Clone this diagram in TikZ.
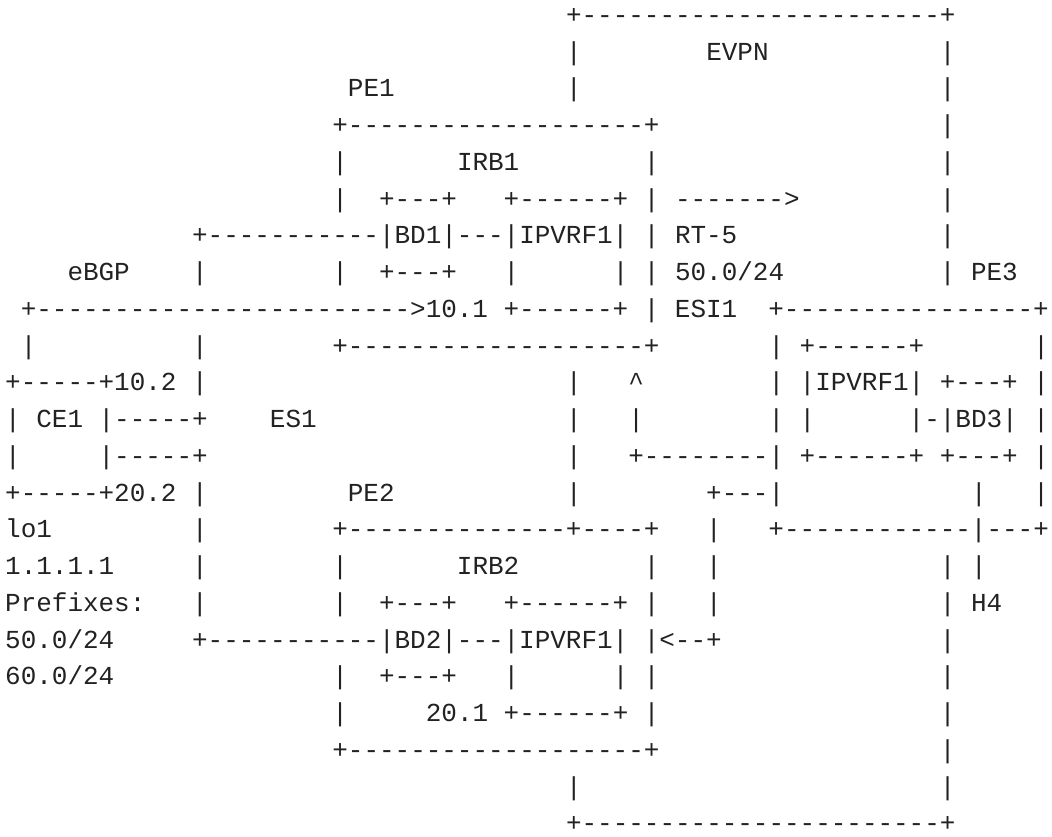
\documentclass[tikz,border=0pt]{standalone}
\usepackage{fontspec}
\setmonofont{Liberation Mono}
\definecolor{ink}{HTML}{222222}

\ExplSyntaxOn
\NewDocumentCommand\dashes{m}{\prg_replicate:nn{#1}{-}}
\ExplSyntaxOff
\newcommand\gap[1]{\hphantom{\dashes{#1}}}

\begin{document}
\begin{tikzpicture}[x=11.685pt, y=-27.5625pt,
    ascii/.style={anchor=base west, inner sep=0pt, outer sep=0pt, text=ink,
        font=\ttfamily\fontsize{19.47pt}{27.56pt}\selectfont}]
            \fill [white] (-0.334,-0.6395) rectangle (67.19,22.136);
            \useasboundingbox (-0.334,-0.6395) rectangle (67.19,22.136);

            %EVPN
            \node [ascii] (evpntop)at(36,0){+\dashes{23}+};
            \node [ascii] (evpn)at(36,1){|\gap{8}EVPN\gap{11}|};
            %PE1
            \node [ascii] (pe1)at(22,2){PE1\gap{11}|\gap{23}|};
            \node [ascii] (pe1top)at(21,3){+\dashes{19}+\gap{18}|};
            \node [ascii] (irb1)at(21,4){|\gap{7}IRB1\gap{8}|\gap{18}|};
            \node [ascii] (bd1top)at(21,5){|\gap{2}+---+\gap{3}+\dashes{6}+ | \dashes{7}>\gap{9}|};
            \node [ascii] (bd1)at(12,6){+\dashes{11}|BD1|---|IPVRF1| | RT-5\gap{13}|};
            \node [ascii] (ebgp)at(4,7){eBGP\gap{4}|\gap{8}|\gap{2}+---+\gap{3}|\gap{6}| | 50.0/24\gap{10}| PE3};
            \node [ascii] (route1)at(1,8){+\dashes{24}>10.1 +\dashes{6}+ | ESI1\gap{2}+\dashes{16}+};
            \node [ascii] (pe1bot)at(1,9){|\gap{10}|\gap{8}+\dashes{19}+\gap{7}| +\dashes{6}+\gap{7}|};

            %CE1
            \node [ascii] (ce1top)at(0,10){+\dashes{5}+10.2 |\gap{23}|\gap{3}\textasciicircum\gap{8}| |IPVRF1| +---+ |};
            \node [ascii] (ce1)at(0,11){| CE1 |\dashes{5}+\gap{4}ES1\gap{16}|\gap{3}|\gap{8}| |\gap{6}|-|BD3| |};
            \node [ascii] (ce1mid)at(0,12){|\gap{5}|\dashes{5}+\gap{23}|\gap{3}+\dashes{8}| +\dashes{6}+ +---+ |};
            \node [ascii] (ce1bot)at(0,13){+\dashes{5}+20.2 |\gap{9}PE2\gap{11}|\gap{8}+---|\gap{12}|\gap{3}|};

            %PE2
            \node [ascii] (pe2top)at(0,14){lo1\gap{9}|\gap{8}+\dashes{14}+----+\gap{3}|\gap{3}+\dashes{12}|---+};
            \node [ascii] (irb2)at(0,15){1.1.1.1\gap{5}|\gap{8}|\gap{7}IRB2\gap{8}|\gap{3}|\gap{14}| |};
            \node [ascii] (bd2top)at(0,16){Prefixes:\gap{3}|\gap{8}|\gap{2}+---+\gap{3}+\dashes{6}+ |\gap{3}|\gap{14}| H4};
            \node [ascii] (bd2)at(0,17){50.0/24\gap{5}+\dashes{11}|BD2|---|IPVRF1| |<--+\gap{14}|};
            \node [ascii] (bd2bot)at(0,18){60.0/24\gap{14}|\gap{2}+---+\gap{3}|\gap{6}| |\gap{18}|};
            \node [ascii] (route2)at(21,19){|\gap{5}20.1 +\dashes{6}+ |\gap{18}|};
            \node [ascii] (pe2bot)at(21,20){+\dashes{19}+\gap{18}|};

            %EVPN bottom
            \node [ascii] (evpnside)at(36,21){|\gap{23}|};
            \node [ascii] (evpnbot)at(36,22){+\dashes{23}+};

        \end{tikzpicture}
\end{document}
